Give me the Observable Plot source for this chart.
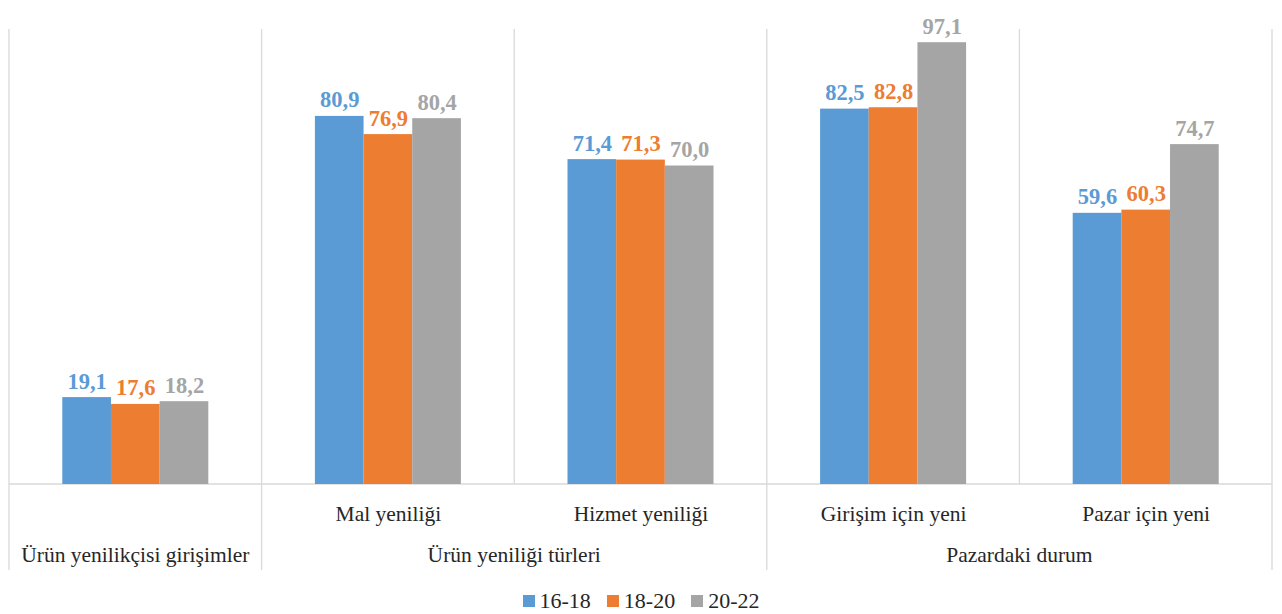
<!DOCTYPE html>
<html>
<head>
<meta charset="utf-8">
<script src="https://cdn.jsdelivr.net/npm/d3@7"></script>
<script src="https://cdn.jsdelivr.net/npm/@observablehq/plot@0.6"></script>
<style>
  body { margin: 0; background: #fff; }
  #legend { display: flex; justify-content: center; gap: 16px; font-family: "Liberation Serif", "DejaVu Serif", "Times New Roman", serif; font-size: 22px; color: #262626; margin-top: 3px; }
  #legend span.item { display: flex; align-items: center; gap: 5px; }
  #legend span.sw { width: 12px; height: 12px; display: inline-block; }
</style>
</head>
<body>
<div id="chart"></div>
<div id="legend"></div>
<script>
const categories = ["c1", "c2", "c3", "c4", "c5"];
const subLabels = ["", "Mal yeniliği", "Hizmet yeniliği", "Girişim için yeni", "Pazar için yeni"];
const groupLabels = ["Ürün yenilikçisi girişimler", "Ürün yeniliği türleri", "Pazardaki durum"];
const groupSpans = [[0, 0], [1, 2], [3, 4]];
const series = ["16-18", "18-20", "20-22"];
const colors = ["#5b9bd5", "#ed7d31", "#a5a5a5"];
const v1618 = [19.1, 80.9, 71.4, 82.5, 59.6];
const v1820 = [17.6, 76.9, 71.3, 82.8, 60.3];
const v2022 = [18.2, 80.4, 70.0, 97.1, 74.7];

const valuesBySeries = [v1618, v1820, v2022];
const data = [];
categories.forEach((c, i) => series.forEach((s, j) => data.push({cat: c, series: s, value: valuesBySeries[j][i]})));
const fmt = v => v.toFixed(1).replace(".", ",");
const font = "'Liberation Serif', 'DejaVu Serif', 'Times New Roman', serif";

const chart = Plot.plot({
  width: 1282,
  height: 585,
  marginLeft: 9,
  marginRight: 10,
  marginTop: 29,
  marginBottom: 101,
  style: {fontFamily: font, fontSize: "21.5px", color: "#262626", background: "#fff"},
  fx: {domain: categories, padding: 0, round: false, label: null, axis: "bottom", tickSize: 0, tickPadding: 21, tickFormat: k => subLabels[categories.indexOf(k)]},
  x: {domain: series, paddingInner: 0, paddingOuter: 1.095, round: false, axis: null},
  y: {domain: [0, 100], axis: null},
  color: {domain: series, range: colors},
  marks: [
    Plot.barY(data, {fx: "cat", x: "series", y: "value", fill: "series"}),
    Plot.text(data, {fx: "cat", x: "series", y: "value", text: d => fmt(d.value), fill: "series", lineAnchor: "bottom", dy: -9, fontWeight: "bold", fontSize: 22.5, fontFamily: font})
  ]
});
document.getElementById("chart").appendChild(chart);

// separators, baseline and group labels via the plot's scales
const svg = d3.select(chart);
const fx = chart.scale("fx");
const y = chart.scale("y");
const step = fx.step;
const y0 = y.apply(0), yTop = y.apply(100);
const g = svg.append("g").attr("stroke", "#d9d9d9").attr("stroke-width", 1.3);
const edges = categories.map(c => fx.apply(c)).concat([fx.apply(categories[categories.length - 1]) + step]);
const groupEdges = new Set([0, ...groupSpans.map(s => s[1] + 1)]);
edges.forEach((x, i) => {
  g.append("line").attr("x1", x).attr("x2", x).attr("y1", yTop).attr("y2", groupEdges.has(i) ? 570 : y0);
});
g.append("line").attr("x1", edges[0]).attr("x2", edges[edges.length - 1]).attr("y1", y0).attr("y2", y0);
svg.selectAll("[aria-label=bar]").raise();
svg.selectAll("[aria-label=text]").raise();
groupSpans.forEach(([a, b], i) => {
  const xc = (fx.apply(categories[a]) + fx.apply(categories[b]) + step) / 2;
  svg.append("text").attr("x", xc).attr("y", 562).attr("text-anchor", "middle")
    .attr("fill", "#262626").style("font-family", font).attr("font-size", 21.5).text(groupLabels[i]);
});

const legend = d3.select("#legend");
series.forEach((s, i) => {
  const it = legend.append("span").attr("class", "item");
  it.append("span").attr("class", "sw").style("background", colors[i]);
  it.append("span").text(s);
});
</script>
</body>
</html>
